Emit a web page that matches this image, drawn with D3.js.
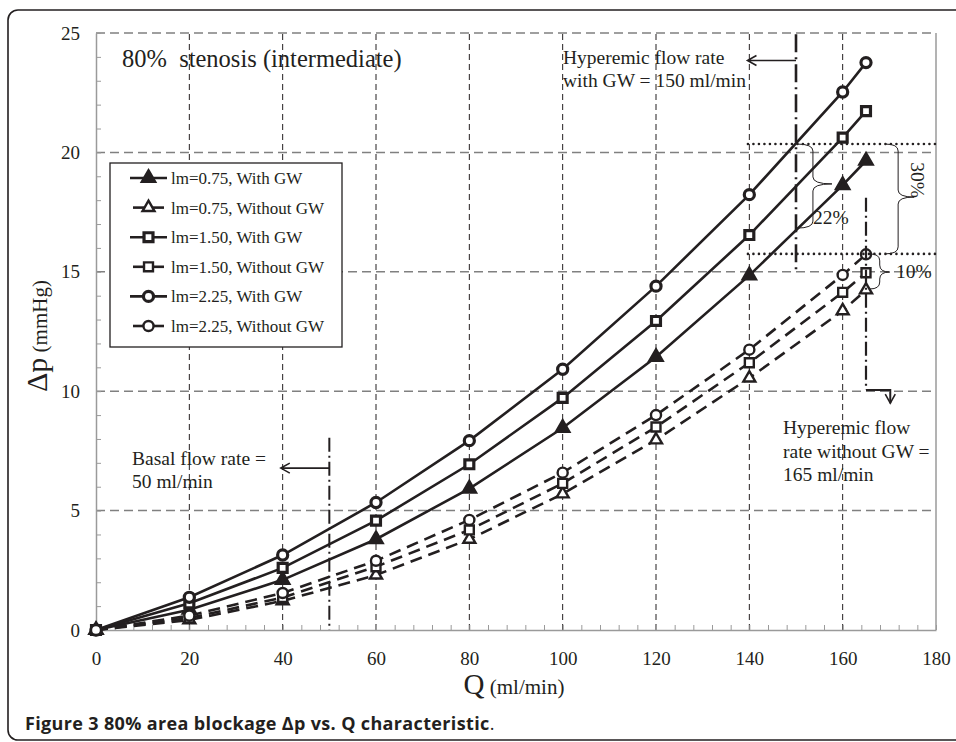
<!DOCTYPE html>
<html>
<head>
<meta charset="utf-8">
<script src="https://cdn.jsdelivr.net/npm/d3@7"></script>
<style>
  body { margin: 0; background: #fff; }
  svg text { font-family: "Liberation Serif", "Times New Roman", serif; fill: #231f20; }
</style>
</head>
<body>
<svg id="chart" width="956" height="742"></svg>
<script>
"use strict";
// values (Q in ml/min, dp in mmHg)
var flowRates = [0, 20, 40, 60, 80, 100, 120, 140, 160, 165];
var lm075With = [0, 0.85, 2.1, 3.8, 5.92, 8.46, 11.43, 14.85, 18.63, 19.65];
var lm075Without = [0, 0.42, 1.22, 2.3, 3.8, 5.7, 7.96, 10.55, 13.37, 14.24];
var lm150With = [0, 1.12, 2.6, 4.58, 6.94, 9.72, 12.94, 16.54, 20.62, 21.73];
var lm150Without = [0, 0.5, 1.36, 2.65, 4.19, 6.14, 8.5, 11.19, 14.14, 14.96];
var lm225With = [0, 1.37, 3.14, 5.34, 7.93, 10.92, 14.4, 18.23, 22.53, 23.76];
var lm225Without = [0, 0.6, 1.55, 2.9, 4.61, 6.59, 9.0, 11.74, 14.87, 15.73];
var xTicks = [0, 20, 40, 60, 80, 100, 120, 140, 160, 180];
var yTicks = [0, 5, 10, 15, 20, 25];
var seriesLabels = ["lm=0.75, With GW", "lm=0.75, Without GW", "lm=1.50, With GW",
    "lm=1.50, Without GW", "lm=2.25, With GW", "lm=2.25, Without GW"];

var series = [
    {label: seriesLabels[0], values: lm075With, symbol: d3.symbolTriangle, withGW: true},
    {label: seriesLabels[1], values: lm075Without, symbol: d3.symbolTriangle, withGW: false},
    {label: seriesLabels[2], values: lm150With, symbol: d3.symbolSquare, withGW: true},
    {label: seriesLabels[3], values: lm150Without, symbol: d3.symbolSquare, withGW: false},
    {label: seriesLabels[4], values: lm225With, symbol: d3.symbolCircle, withGW: true},
    {label: seriesLabels[5], values: lm225Without, symbol: d3.symbolCircle, withGW: false}
];

var ink = "#231f20";
var svg = d3.select("#chart");
var x = d3.scaleLinear().domain([0, 180]).range([96, 936]);
var y = d3.scaleLinear().domain([0, 25]).range([630, 33]);

// rounded frame round figure + caption
svg.append("rect").attr("x", 8).attr("y", 10).attr("width", 970).attr("height", 730)
    .attr("rx", 10).attr("fill", "none").attr("stroke", ink).attr("stroke-width", 1.6);

// grid
svg.append("g").selectAll("line").data(yTicks.slice(1)).join("line")
    .attr("x1", x(0)).attr("x2", x(180))
    .attr("y1", function (d) { return y(d); }).attr("y2", function (d) { return y(d); })
    .attr("stroke", "#808080").attr("stroke-width", 1.5).attr("stroke-dasharray", "9,5");
svg.append("g").selectAll("line").data(xTicks.slice(1, -1)).join("line")
    .attr("x1", function (d) { return x(d); }).attr("x2", function (d) { return x(d); })
    .attr("y1", y(0)).attr("y2", y(25))
    .attr("stroke", ink).attr("stroke-width", 1).attr("stroke-dasharray", "6,4");

// axes: minor ticks pointing inward
function styleAxis(g) {
    g.selectAll(".domain").attr("stroke", "#9a9a9a").attr("stroke-width", 1.5);
    g.selectAll(".tick line").attr("stroke", "#9a9a9a").attr("stroke-width", 1);
}
svg.append("g").attr("transform", "translate(" + x(0) + ",0)")
    .call(d3.axisLeft(y).tickValues(d3.range(0, 26, 1)).tickSize(-5).tickSizeOuter(0).tickFormat(""))
    .call(styleAxis);
svg.append("g").attr("transform", "translate(0," + y(0) + ")")
    .call(d3.axisBottom(x).tickValues(d3.range(0, 181, 4)).tickSize(-5).tickSizeOuter(0).tickFormat(""))
    .call(styleAxis);
svg.append("line").attr("x1", x(180)).attr("x2", x(180)).attr("y1", y(0)).attr("y2", y(25))
    .attr("stroke", "#9a9a9a").attr("stroke-width", 1.5);

// tick labels
var yLab = svg.append("g").attr("transform", "translate(" + x(0) + ",0)")
    .call(d3.axisLeft(y).tickValues(yTicks).tickSize(0).tickPadding(16));
var xLab = svg.append("g").attr("transform", "translate(0," + y(0) + ")")
    .call(d3.axisBottom(x).tickValues(xTicks).tickSize(0).tickPadding(22));
[yLab, xLab].forEach(function (g) {
    g.select(".domain").remove();
    g.selectAll("text").attr("font-family", "Liberation Serif").attr("font-size", 19).attr("fill", ink);
});

// axis titles
var yTitle = svg.append("text").attr("transform", "translate(47,336) rotate(-90)")
    .attr("text-anchor", "middle");
yTitle.append("tspan").attr("font-size", 30).text("Δp");
yTitle.append("tspan").attr("font-size", 21).text(" (mmHg)");
var xTitle = svg.append("text").attr("x", 514).attr("y", 694).attr("text-anchor", "middle");
xTitle.append("tspan").attr("font-size", 29).text("Q");
xTitle.append("tspan").attr("font-size", 21).text(" (ml/min)");

svg.append("text").attr("x", 122).attr("y", 67).attr("font-size", 24.5)
    .attr("xml:space", "preserve").text("80%  stenosis (intermediate)");

// series lines + markers
var line = d3.line()
    .x(function (d, i) { return x(flowRates[i]); })
    .y(function (d) { return y(d); });
var symbolSize = function (s) { return s === d3.symbolTriangle ? 62 : 80; };

function drawMarker(g, s, px, py) {
    g.append("path")
        .attr("d", d3.symbol().type(s.symbol).size(symbolSize(s.symbol))())
        .attr("transform", "translate(" + px + "," + py + ")")
        .attr("fill", s.withGW && s.symbol === d3.symbolTriangle ? ink : "#fff")
        .attr("stroke", ink).attr("stroke-width", s.withGW ? 3.2 : 2.4);
}

var plot = svg.append("g");
series.forEach(function (s) {
    plot.append("path").datum(s.values).attr("d", line)
        .attr("fill", "none").attr("stroke", ink).attr("stroke-width", 2.6)
        .attr("stroke-dasharray", s.withGW ? null : "12,7");
});
series.forEach(function (s) {
    s.values.forEach(function (v, i) { drawMarker(plot, s, x(flowRates[i]), y(v)); });
});

// legend
var legend = svg.append("g");
legend.append("rect").attr("x", 110).attr("y", 163).attr("width", 232).attr("height", 184)
    .attr("fill", "#fff").attr("stroke", ink).attr("stroke-width", 1.3);
series.forEach(function (s, i) {
    var ly = 178 + i * 29.6;
    legend.append("line").attr("x1", s.withGW ? 130 : 133).attr("x2", s.withGW ? 167 : 164)
        .attr("y1", ly).attr("y2", ly).attr("stroke", ink).attr("stroke-width", 2.6);
    drawMarker(legend, s, 148.5, ly);
    legend.append("text").attr("x", 171).attr("y", ly + 6).attr("font-size", 17).text(s.label);
});

// annotations
var ann = svg.append("g").attr("fill", "none").attr("stroke", ink);
function vline(q, d0, d1, dash, w) {
    ann.append("line").attr("x1", x(q)).attr("x2", x(q)).attr("y1", y(d0)).attr("y2", y(d1))
        .attr("stroke-width", w).attr("stroke-dasharray", dash);
}
function arrowLeft(q0, q1, d) {
    var tx = x(q1), ty = y(d);
    ann.append("path").attr("stroke-width", 1.6)
        .attr("d", "M" + x(q0) + "," + ty + "H" + tx + "M" + (tx + 9) + "," + (ty - 5) + "L" + tx + "," + ty + "L" + (tx + 9) + "," + (ty + 5));
}
function brace(q, d0, d1, dm, body, tip) {
    var x0 = x(q), ya = y(d0), yb = y(d1), ym = y(dm), xb = x0 + body, xt = x0 + tip, r = 7;
    ann.append("path").attr("stroke-width", 1)
        .attr("d", "M" + x0 + "," + ya + "Q" + xb + "," + ya + " " + xb + "," + (ya + r) +
            "L" + xb + "," + (ym - r) + "Q" + xb + "," + ym + " " + xt + "," + ym +
            "Q" + xb + "," + ym + " " + xb + "," + (ym + r) +
            "L" + xb + "," + (yb - r) + "Q" + xb + "," + yb + " " + x0 + "," + yb);
}

// hyperemic flow with GW = 150
vline(150, 24.95, 15.03, "18,5,2,5", 2.6);
arrowLeft(150, 139.6, 23.85);
// basal flow = 50
vline(50, 8.05, 0, "14,4,2,4", 2);
arrowLeft(50, 39.6, 6.78);
// hyperemic flow without GW = 165
vline(165, 18.1, 10.05, "14,4,2,4", 2.2);
ann.append("path").attr("stroke-width", 2)
    .attr("d", "M" + x(165) + "," + y(10.05) + "H" + x(170.2) + "V" + y(9.5));
ann.append("path").attr("stroke-width", 1.6)
    .attr("d", "M" + (x(170.2) - 5) + "," + (y(9.5) - 9) + "L" + x(170.2) + "," + y(9.5) + "L" + (x(170.2) + 5) + "," + (y(9.5) - 9));

// dotted reference levels
[20.35, 15.75].forEach(function (d) {
    ann.append("line").attr("x1", x(139.7)).attr("x2", x(180)).attr("y1", y(d)).attr("y2", y(d))
        .attr("stroke-width", 2.6).attr("stroke-dasharray", "0,5.5").attr("stroke-linecap", "round");
});

brace(150.2, 20.35, 16.83, 18.68, 16, 35);
brace(169.1, 20.35, 15.75, 18.13, 13, 29);
brace(165.8, 15.75, 14.28, 14.99, 10, 20);

var notes = svg.append("g").attr("font-size", 19.5);
notes.append("text").attr("x", 563).attr("y", 64).text("Hyperemic flow rate");
notes.append("text").attr("x", 563).attr("y", 87).text("with GW = 150 ml/min");
notes.append("text").attr("x", 132).attr("y", 465).text("Basal flow rate =");
notes.append("text").attr("x", 132).attr("y", 488).text("50 ml/min");
notes.append("text").attr("x", 783).attr("y", 434).text("Hyperemic flow");
notes.append("text").attr("x", 783).attr("y", 458).text("rate without GW =");
notes.append("text").attr("x", 783).attr("y", 481).text("165 ml/min");
notes.append("text").attr("x", 813).attr("y", 224).text("22%");
notes.append("text").attr("x", 896).attr("y", 278).text("10%");
notes.append("text").attr("transform", "translate(911,180) rotate(90)").attr("text-anchor", "middle").text("30%");

// caption
var cap = svg.append("text").attr("x", 25).attr("y", 730)
    .attr("font-family", "Open Sans").attr("font-size", 18).attr("font-weight", "bold")
    .attr("letter-spacing", 0.35);
cap.append("tspan").attr("font-family", "Open Sans").text("Figure 3 80% area blockage Δp vs. Q characteristic");
cap.append("tspan").attr("font-family", "Open Sans").attr("font-weight", "normal").text(".");
</script>
</body>
</html>
